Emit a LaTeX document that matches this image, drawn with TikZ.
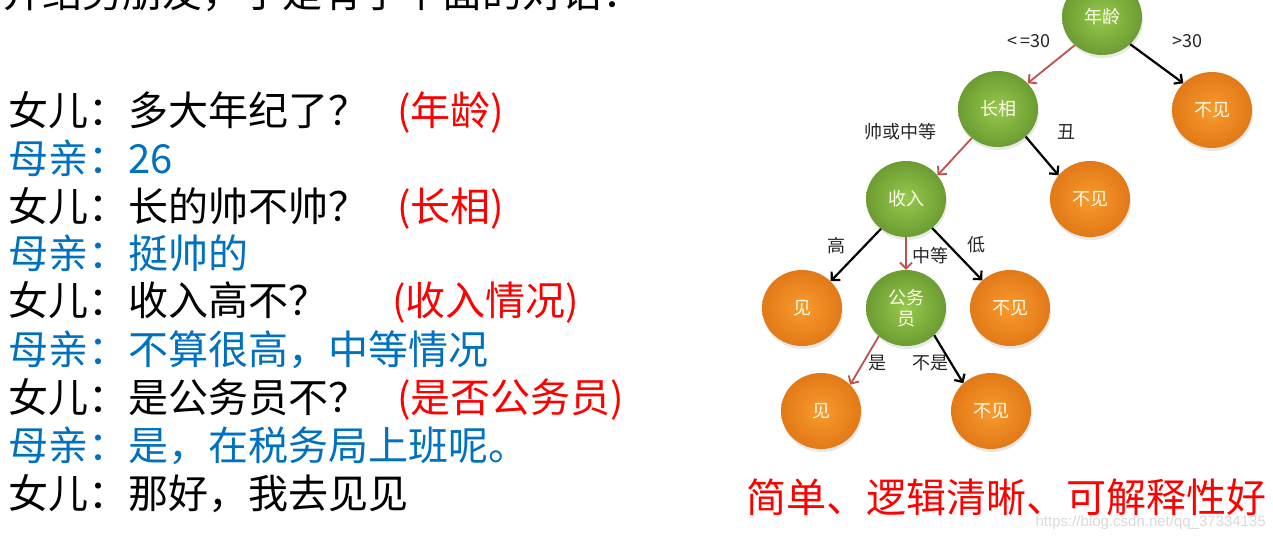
\documentclass[tikz,border=0pt]{standalone}
\usepackage{fontspec}
\setmainfont{Noto Sans CJK SC}
\newfontfamily\wmfont{Liberation Sans}
\usetikzlibrary{arrows.meta,shapes.geometric,shadows}
\definecolor{blueT}{HTML}{0070C0}
\definecolor{redT}{HTML}{FF0000}
\definecolor{arrRed}{HTML}{C0504D}
\definecolor{gIn}{HTML}{96C94C}
\definecolor{gOut}{HTML}{6C9C32}
\definecolor{oIn}{HTML}{F89B2E}
\definecolor{oOut}{HTML}{E27917}
\begin{document}
\begin{tikzpicture}[x=1pt,y=-1pt,
  txtline/.style={anchor=base west, inner sep=0pt, font=\fontsize{40}{48}\selectfont},
  gnode/.style={ellipse, minimum width=80pt, minimum height=76pt, inner sep=0pt,
    inner color=gIn, outer color=gOut, text=white!92!yellow,
    font=\fontsize{18}{21}\selectfont,
    drop shadow={opacity=0.18, shadow xshift=1pt, shadow yshift=-3pt}},
  onode/.style={gnode, inner color=oIn, outer color=oOut},
  elabel/.style={inner sep=0pt, font=\fontsize{18}{21}\selectfont, text=black!85},
  rarr/.style={draw=arrRed, line width=1.8pt, -{Straight Barb[length=6pt,width=12pt]}},
  barr/.style={draw=black, line width=2.2pt, -{Straight Barb[length=6pt,width=12pt]}}
]
\useasboundingbox (0,0) rectangle (1273,538);

% cut-off top line
\node[txtline] (l0) at (2,8) {介绍男朋友，于是有了下面的对话：};

% dialogue
\node[txtline] (l1) at (8,125) {女儿：多大年纪了？};
\node[txtline, text=blueT] (l2) at (8,173) {母亲：26};
\node[txtline] (l3) at (8,221) {女儿：长的帅不帅？};
\node[txtline, text=blueT] (l4) at (8,268) {母亲：挺帅的};
\node[txtline] (l5) at (8,315) {女儿：收入高不？};
\node[txtline, text=blueT] (l6) at (8,364) {母亲：不算很高，中等情况};
\node[txtline] (l7) at (8,412) {女儿：是公务员不？};
\node[txtline, text=blueT] (l8) at (8,460) {母亲：是，在税务局上班呢。};
\node[txtline] (l9) at (8,508) {女儿：那好，我去见见};

\node[txtline, text=redT] (a1) at (397,125) {(年龄)};
\node[txtline, text=redT] (a3) at (397,221) {(长相)};
\node[txtline, text=redT] (a5) at (392,315) {(收入情况)};
\node[txtline, text=redT] (a7) at (397,412) {(是否公务员)};

% tree
\node[gnode] (age) at (1102,17) {年龄};
\node[gnode] (looks) at (998,109) {长相};
\node[onode] (no1) at (1212,110) {不见};
\node[gnode] (income) at (906,199) {收入};
\node[onode] (no2) at (1090,199) {不见};
\node[onode] (yes1) at (802,308) {见};
\node[gnode, align=center] (civil) at (906,308) {公务\\员};
\node[onode] (no3) at (1010,308) {不见};
\node[onode] (yes2) at (821,411) {见};
\node[onode] (no4) at (991,411) {不见};

\draw[rarr] (age.226) -- (looks.41);
\draw[barr] (age.316) -- (no1.137);
\draw[rarr] (looks.228) -- (income.37);
\draw[barr] (looks.315) -- (no2.143);
\draw[barr] (income.230) -- (yes1.43);
\draw[rarr] (income.270) -- (civil.90);
\draw[barr] (income.312) -- (no3.135);
\draw[rarr] (civil.226) -- (yes2.42);
\draw[barr] (civil.316) -- (no4.135);

% edge labels
\node[elabel] (e1) at (1029,41) {<\,=30};
\node[elabel] (e2) at (1187,41) {>30};
\node[elabel] (e3) at (900,132) {帅或中等};
\node[elabel] (e4) at (1066,132) {丑};
\node[elabel] (e5) at (836,246) {高};
\node[elabel] (e6) at (930,256) {中等};
\node[elabel] (e7) at (976,245) {低};
\node[elabel] (e8) at (877,363) {是};
\node[elabel] (e9) at (930,363) {不是};

% summary
\node[txtline, text=redT] (sum) at (746,512) {简单、逻辑清晰、可解释性好};

% watermark
\node[anchor=base east, inner sep=0pt, text=black!15, font=\wmfont\fontsize{15}{18}\selectfont] (wm) at (1266,526) {https://blog.csdn.net/qq\_37334135};
\end{tikzpicture}
\end{document}
